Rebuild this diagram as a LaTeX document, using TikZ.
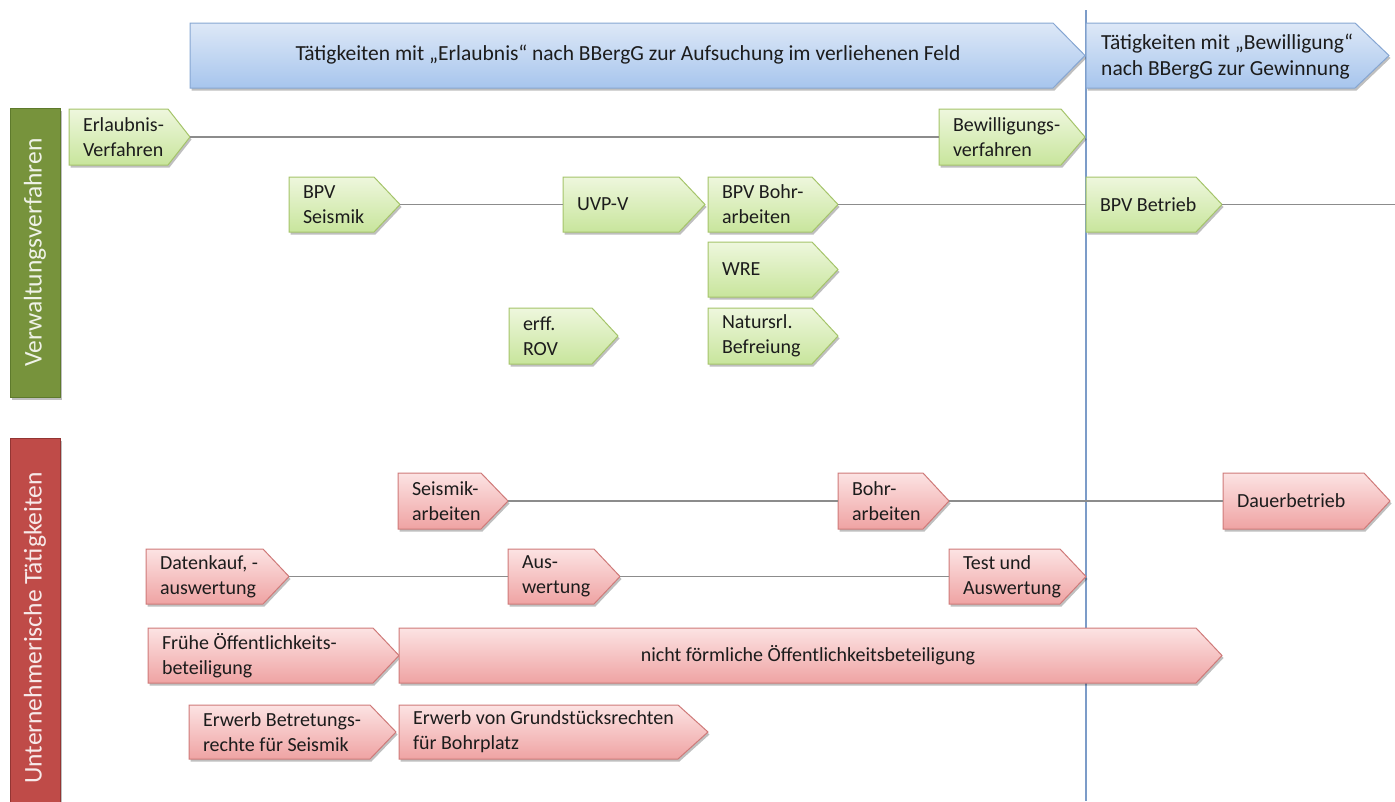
\documentclass[tikz,border=0pt]{standalone}
\usepackage{fontspec}
\setmainfont{Carlito}
\usetikzlibrary{shadows}
\definecolor{txt}{HTML}{1C1C1C}
\definecolor{gtop}{HTML}{EEF7DD}
\definecolor{gbot}{HTML}{C8E59C}
\definecolor{gbord}{HTML}{A5C46A}
\definecolor{rtop}{HTML}{FCE3E3}
\definecolor{rbot}{HTML}{EFA3A3}
\definecolor{rbord}{HTML}{CF7A79}
\definecolor{btop}{HTML}{DDE8F7}
\definecolor{bbot}{HTML}{A7C5ED}
\definecolor{bbord}{HTML}{86A6D2}
\definecolor{gbarc}{HTML}{77933C}
\definecolor{gbarb}{HTML}{5E7A2C}
\definecolor{rbarc}{HTML}{BF4B48}
\definecolor{rbarb}{HTML}{933533}
\definecolor{connc}{HTML}{8C8C8C}
\definecolor{vlinec}{HTML}{7C9CC8}
\tikzset{
  shd/.style={drop shadow={shadow xshift=1.5pt, shadow yshift=-2.5pt, opacity=0.25, fill=black}},
  gfill/.style={shd, draw=gbord, line width=1pt, top color=gtop, bottom color=gbot},
  rfill/.style={shd, draw=rbord, line width=1pt, top color=rtop, bottom color=rbot},
  bfill/.style={shd, draw=bbord, line width=1pt, top color=btop, bottom color=bbot},
  boxnode/.style={inner sep=0pt, draw=none, rectangle},
  lbl/.style={anchor=west, align=left, inner sep=0pt, text=txt, font=\fontsize{20}{25}\selectfont},
  ttl/.style={inner sep=0pt, text=txt, font=\fontsize{21.5}{26}\selectfont},
  mid/.style={inner sep=0pt, text=txt, font=\fontsize{20}{25}\selectfont},
  conn/.style={draw=connc, line width=1.3pt},
  sidebar/.style={shd, rotate=90, inner sep=0pt, line width=1pt, font=\fontsize{25.5}{30}\selectfont},
}
\newcommand\mkchev[7]{%
  \path[#1fill] (#3,#5) -- ({#4-#7},#5) -- (#4,{(#5+#6)/2}) -- ({#4-#7},#6) -- (#3,#6) -- cycle;
  \node[boxnode, minimum width={#4-#3}, minimum height={#6-#5}] (#2) at ({(#3+#4)/2},{(#5+#6)/2}) {};
}
\begin{document}
\begin{tikzpicture}[x=1pt,y=-1pt]
\useasboundingbox (0,0) rectangle (1395,801);
% vertical separator
\coordinate (vtop) at (1086,10);
\coordinate (vbot) at (1086,801);
\draw[vlinec, line width=1.2pt] (vtop) -- (vbot);
% side bars
\node[sidebar, fill=gbarc, draw=gbarb, text=gbarc!12, minimum width=289, minimum height=50] (vbar) at (35,252.5) {Verwaltungsverfahren};
\node[sidebar, fill=rbarc, draw=rbarb, text=rbarc!12, minimum width=380, minimum height=50] (ubar) at (35,628) {Unternehmerische Tätigkeiten};
% blue header arrows
\mkchev{b}{ba}{190}{1085}{23}{88}{32}
\mkchev{b}{bb}{1086}{1389}{23}{88}{34}
\node[ttl] (ba-t) at (628,55) {Tätigkeiten mit „Erlaubnis“ nach BBergG zur Aufsuchung im verliehenen Feld};
\node[ttl, anchor=west, align=left] (bb-t) at (1101,57) {Tätigkeiten mit „Bewilligung“\\nach BBergG zur Gewinnung};
% green chevrons
\mkchev{g}{erl}{69}{190}{109}{165}{22}
\mkchev{g}{bew}{939}{1085}{109}{165}{24}
\mkchev{g}{bpvs}{289}{400}{177}{232}{26}
\mkchev{g}{uvp}{563}{705}{177}{232}{26}
\mkchev{g}{bpvbohr}{708}{838}{177}{232}{26}
\mkchev{g}{bpvbet}{1086}{1222}{177}{232}{26}
\mkchev{g}{wre}{708}{838}{242}{297}{26}
\mkchev{g}{rov}{509}{618}{308}{364}{26}
\mkchev{g}{nat}{708}{838}{308}{364}{26}
% red chevrons
\mkchev{r}{seis}{398}{508}{473}{529}{27}
\mkchev{r}{bohr}{838}{949}{473}{529}{26}
\mkchev{r}{dauer}{1223}{1390}{473}{529}{26}
\mkchev{r}{daten}{146}{289}{549}{604}{26}
\mkchev{r}{ausw}{508}{620}{549}{604}{26}
\mkchev{r}{test}{949}{1086}{549}{604}{26}
\mkchev{r}{fruehe}{148}{399}{628}{683}{26}
\mkchev{r}{nicht}{399}{1222}{628}{683}{26}
\mkchev{r}{erwb}{189}{396}{705}{759}{26}
\mkchev{r}{erwg}{399}{708}{705}{759}{30}
% connectors
\coordinate (bpvend) at (1395,204.5);
\draw[conn] (erl.east) -- (bew.west);
\draw[conn] (bpvs.east) -- (uvp.west);
\draw[conn] (bpvbohr.east) -- (bpvbet.west);
\draw[conn] (bpvbet.east) -- (bpvend);
\draw[conn] (seis.east) -- (bohr.west);
\draw[conn] (bohr.east) -- (dauer.west);
\draw[conn] (daten.east) -- (ausw.west);
\draw[conn] (ausw.east) -- (test.west);
% labels
\node[lbl] (erl-t) at ([xshift=14pt]erl.west) {Erlaubnis-\\Verfahren};
\node[lbl] (bew-t) at ([xshift=14pt]bew.west) {Bewilligungs-\\verfahren};
\node[lbl] (bpvs-t) at ([xshift=14pt]bpvs.west) {BPV\\Seismik};
\node[lbl] (uvp-t) at ([xshift=14pt]uvp.west) {UVP-V};
\node[lbl] (bpvbohr-t) at ([xshift=14pt]bpvbohr.west) {BPV Bohr-\\arbeiten};
\node[lbl] (bpvbet-t) at ([xshift=14pt]bpvbet.west) {BPV Betrieb};
\node[lbl] (wre-t) at ([xshift=14pt]wre.west) {WRE};
\node[lbl] (rov-t) at ([xshift=14pt]rov.west) {erff.\\ROV};
\node[lbl] (nat-t) at ([xshift=14pt]nat.west) {Natursrl.\\Befreiung};
\node[lbl] (seis-t) at ([xshift=14pt]seis.west) {Seismik-\\arbeiten};
\node[lbl] (bohr-t) at ([xshift=14pt]bohr.west) {Bohr-\\arbeiten};
\node[lbl] (dauer-t) at ([xshift=14pt]dauer.west) {Dauerbetrieb};
\node[lbl] (daten-t) at ([xshift=14pt]daten.west) {Datenkauf, -\\auswertung};
\node[lbl] (ausw-t) at ([xshift=14pt]ausw.west) {Aus-\\wertung};
\node[lbl] (test-t) at ([xshift=14pt]test.west) {Test und\\Auswertung};
\node[lbl] (fruehe-t) at ([xshift=14pt]fruehe.west) {Frühe Öffentlichkeits-\\beteiligung};
\node[mid] (nicht-t) at (808,655.5) {nicht förmliche Öffentlichkeitsbeteiligung};
\node[lbl] (erwb-t) at ([xshift=14pt]erwb.west) {Erwerb Betretungs-\\rechte für Seismik};
\node[lbl] (erwg-t) at ([xshift=14pt]erwg.west) {Erwerb von Grundstücksrechten\\für Bohrplatz};
\end{tikzpicture}
\end{document}
